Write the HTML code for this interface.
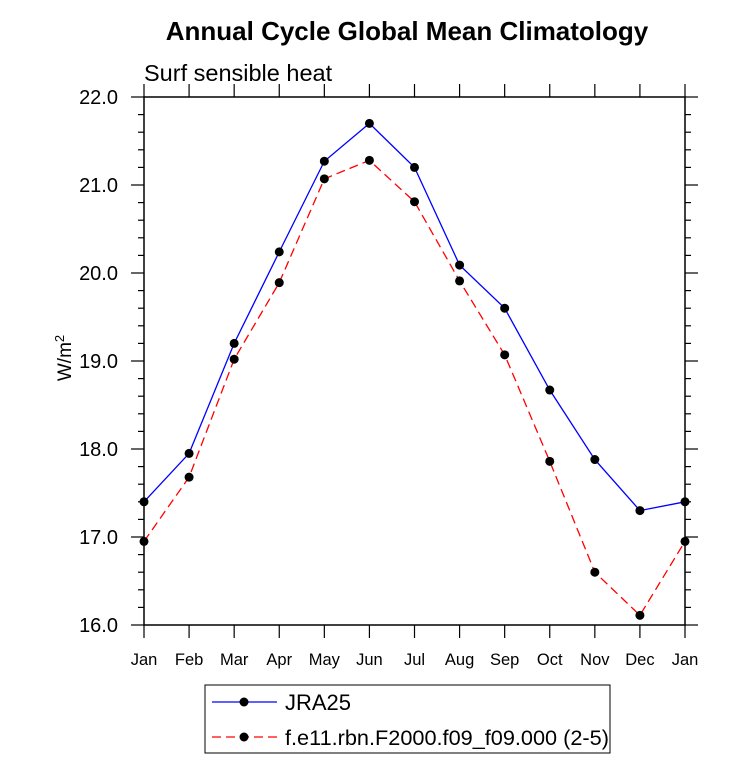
<!DOCTYPE html>
<html><head><meta charset="utf-8"><style>
body{margin:0;background:#fff;}
svg{font-family:"Liberation Sans",Arial,sans-serif;}
</style></head><body>
<svg id="chart" width="733" height="777" xmlns="http://www.w3.org/2000/svg">
<text x="407" y="40" text-anchor="middle" font-size="26" font-weight="bold">Annual Cycle Global Mean Climatology</text>
<text x="144" y="81" font-size="23.5">Surf sensible heat</text>
<text transform="translate(71,358) rotate(-90)" text-anchor="middle" font-size="19">W/m<tspan dy="-7" font-size="13">2</tspan></text>
<g id="axes"></g>
<g id="series"></g>
<g>
<rect x="205" y="685" width="405" height="68" fill="#fff" stroke="#000" stroke-width="1"/>
<line x1="212" y1="702" x2="277" y2="702" stroke="#0000ff" stroke-width="1.3"/>
<circle cx="244" cy="702" r="4.5"/>
<text x="285" y="710" font-size="22">JRA25</text>
<line x1="212" y1="737" x2="277" y2="737" stroke="#ff0000" stroke-width="1.3" stroke-dasharray="9,5"/>
<circle cx="244" cy="737" r="4.5"/>
<text x="285" y="745" font-size="21.7">f.e11.rbn.F2000.f09_f09.000 (2-5)</text>
</g>
</svg>
<script>
const months=["Jan","Feb","Mar","Apr","May","Jun","Jul","Aug","Sep","Oct","Nov","Dec","Jan"];
const jra25=[17.40,17.95,19.20,20.24,21.27,21.70,21.20,20.09,19.60,18.67,17.88,17.30,17.40];
const model=[16.95,17.68,19.02,19.89,21.07,21.28,20.81,19.91,19.07,17.86,16.60,16.11,16.95];
const yTicks=[16.0,17.0,18.0,19.0,20.0,21.0,22.0];
const X0=144,X1=685,Y0=625,Y1=97,YMIN=16,YMAX=22;
const xs=i=>X0+(X1-X0)*i/(months.length-1);
const ys=v=>Y0-(v-YMIN)/(YMAX-YMIN)*(Y0-Y1);
const NS="http://www.w3.org/2000/svg";
function mk(t,a,p){const e=document.createElementNS(NS,t);for(const k in a)e.setAttribute(k,a[k]);p.appendChild(e);return e;}
const ax=document.getElementById('axes');
const frame=mk('rect',{x:X0,y:Y1,width:X1-X0,height:Y0-Y1,fill:'none',stroke:'#000','stroke-width':1.5},ax);


months.forEach((m,i)=>{
 const x=xs(i);
 mk('line',{x1:x,y1:Y0,x2:x,y2:Y0+13,stroke:'#000','stroke-width':1.2},ax);
 mk('line',{x1:x,y1:Y1,x2:x,y2:Y1-13,stroke:'#000','stroke-width':1.2},ax);
 const t=mk('text',{x:x,y:Y0+40,'text-anchor':'middle','font-size':16.5},ax);
 t.textContent=m;
 
 
});
for(let v=YMIN;v<=YMAX+1e-9;v+=0.2){
 const y=ys(v);const major=Math.abs(v-Math.round(v))<1e-6;const L=major?13:6;
 mk('line',{x1:X0,y1:y,x2:X0-L,y2:y,stroke:'#000','stroke-width':1.2},ax);
 mk('line',{x1:X1,y1:y,x2:X1+L,y2:y,stroke:'#000','stroke-width':1.2},ax);
}
yTicks.forEach(v=>{
 const t=mk('text',{x:X0-26,y:ys(v)+7,'text-anchor':'end','font-size':20},ax);
 t.textContent=v.toFixed(1);
 
 
});
const sg=document.getElementById('series');
function draw(vals,color,dash,name){
 const p=mk('polyline',{points:vals.map((v,i)=>xs(i)+','+ys(v)).join(' '),fill:'none',stroke:color,'stroke-width':1.3},sg);
 if(dash)p.setAttribute('stroke-dasharray',dash);
 
 
 vals.forEach((v,i)=>{
  const c=mk('circle',{cx:xs(i),cy:ys(v),r:4.5,fill:'#000'},sg);
  
  
 });
}
draw(jra25,'#0000ff',null,'jra25');
draw(model,'#ff0000','9,5','model');
</script>
</body></html>
